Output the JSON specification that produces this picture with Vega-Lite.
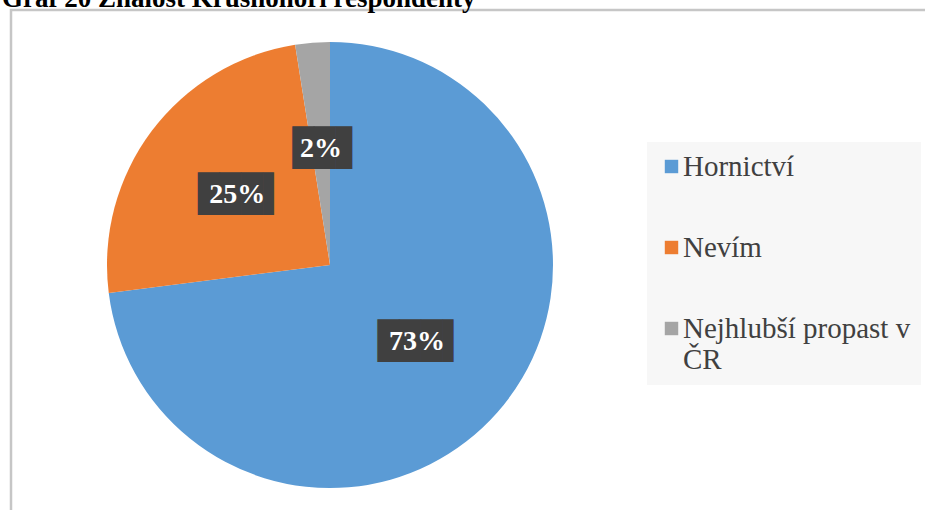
{
  "$schema": "https://vega.github.io/schema/vega-lite/v6.json",
  "autosize": "none",
  "width": 920,
  "height": 505,
  "padding": {"left": 11, "top": 10, "right": 0, "bottom": 0},
  "background": "white",
  "title": {
    "text": "Graf 20 Znalost Krušnohoří respondenty",
    "anchor": "start",
    "font": "Liberation Serif",
    "fontSize": 27,
    "fontWeight": "bold",
    "color": "black",
    "offset": -3,
    "dx": -9
  },
  "config": {
    "view": {"stroke": "#c6c6c6", "strokeWidth": 2.5}
  },
  "data": {
    "values": [
      {"kategorie": "Hornictví", "podil": 73, "popisek": "73%", "poradi": 1},
      {"kategorie": "Nevím", "podil": 24.5, "popisek": "25%", "poradi": 2},
      {"kategorie": "Nejhlubší propast v ČR", "podil": 2.5, "popisek": "2%", "poradi": 3}
    ]
  },
  "encoding": {
    "theta": {"field": "podil", "type": "quantitative", "stack": true},
    "order": {"field": "poradi", "type": "ordinal"},
    "x": {"datum": 319, "type": "quantitative", "scale": {"domain": [0, 920]}, "axis": null},
    "y": {"datum": 250, "type": "quantitative", "scale": {"domain": [0, 505]}, "axis": null}
  },
  "layer": [
    {
      "mark": {"type": "arc", "radius": 223, "stroke": null},
      "encoding": {
        "color": {
          "field": "kategorie",
          "type": "nominal",
          "sort": ["Hornictví", "Nevím", "Nejhlubší propast v ČR"],
          "scale": {
            "domain": ["Hornictví", "Nevím", "Nejhlubší propast v ČR"],
            "range": ["#5b9bd5", "#ed7d31", "#a5a5a5"]
          },
          "legend": {
            "title": null,
            "orient": "none",
            "legendX": 636,
            "legendY": 132,
            "direction": "vertical",
            "fillColor": "#f7f7f7",
            "padding": 10,
            "symbolType": "square",
            "symbolSize": 180,
            "symbolStrokeWidth": 0,
            "labelFont": "Liberation Serif",
            "labelFontSize": 29,
            "labelColor": "#404040",
            "labelOffset": -3,
            "labelLimit": 400,
            "rowPadding": 51,
            "labelExpr": "datum.label == 'Nejhlubší propast v ČR' ? ['Nejhlubší propast v', 'ČR'] : datum.label"
          }
        }
      }
    },
    {
      "mark": {"type": "text", "radius": 116, "font": "DejaVu Sans Mono", "fontSize": 36, "color": "#404040", "baseline": "middle", "align": "center", "dx": 4},
      "encoding": {
        "text": {"condition": {"test": "datum.podil < 5", "value": "██▊"}, "value": "███▌"}
      }
    },
    {
      "mark": {"type": "text", "radius": 116, "font": "Liberation Serif", "fontSize": 28, "fontWeight": "bold", "color": "white", "baseline": "middle", "align": "center"},
      "encoding": {
        "text": {"field": "popisek", "type": "nominal"}
      }
    }
  ]
}
